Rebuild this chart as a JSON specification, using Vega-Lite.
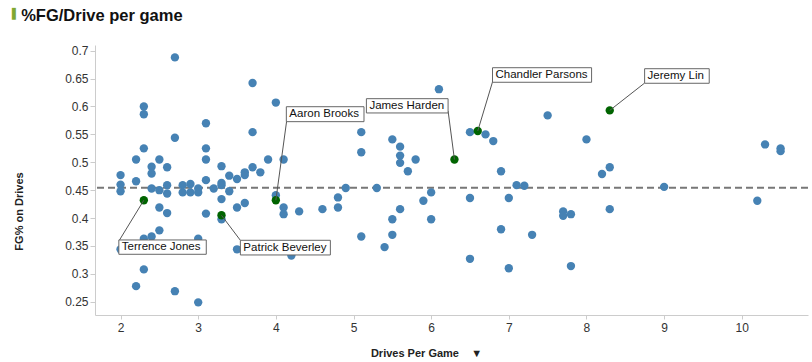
{
  "$schema": "https://vega.github.io/schema/vega-lite/v6.json",
  "autosize": {"type": "none"},
  "padding": {"left": 95, "top": 45, "right": 4, "bottom": 47},
  "width": 713,
  "height": 270,
  "background": "white",
  "title": {
    "text": "\u200b\u00a0\u00a0%FG/Drive per game",
    "subtitle": "▌",
    "anchor": "start",
    "frame": "group",
    "dx": -83,
    "font": "Liberation Sans",
    "fontSize": 16.5,
    "fontWeight": "bold",
    "color": "#111111",
    "subtitleFont": "DejaVu Sans",
    "subtitleFontSize": 10,
    "subtitleColor": "#7fa832",
    "subtitlePadding": -16,
    "offset": 20
  },
  "config": {
    "view": {"stroke": null},
    "axis": {
      "grid": false,
      "domainColor": "#cccccc",
      "tickColor": "#cccccc",
      "labelFont": "Liberation Sans",
      "labelFontSize": 12,
      "labelColor": "#333333",
      "titleFont": "Liberation Sans",
      "titleFontSize": 11,
      "titleFontWeight": "bold",
      "titleColor": "#222222"
    }
  },
  "datasets": {
    "players": [
      {"drives": 2.7, "fg": 0.688}, {"drives": 3.7, "fg": 0.642}, {"drives": 4.0, "fg": 0.607}, {"drives": 2.3, "fg": 0.600},
      {"drives": 2.3, "fg": 0.586}, {"drives": 3.1, "fg": 0.570}, {"drives": 3.7, "fg": 0.554}, {"drives": 2.7, "fg": 0.544},
      {"drives": 2.3, "fg": 0.525}, {"drives": 3.1, "fg": 0.525}, {"drives": 2.2, "fg": 0.505}, {"drives": 2.5, "fg": 0.505},
      {"drives": 3.1, "fg": 0.505}, {"drives": 3.9, "fg": 0.505}, {"drives": 4.1, "fg": 0.505}, {"drives": 2.4, "fg": 0.492},
      {"drives": 2.6, "fg": 0.491}, {"drives": 3.3, "fg": 0.493}, {"drives": 3.7, "fg": 0.491}, {"drives": 2.4, "fg": 0.480},
      {"drives": 3.6, "fg": 0.482}, {"drives": 3.8, "fg": 0.482}, {"drives": 2.0, "fg": 0.477}, {"drives": 3.4, "fg": 0.476},
      {"drives": 3.5, "fg": 0.470}, {"drives": 3.6, "fg": 0.477}, {"drives": 2.2, "fg": 0.466}, {"drives": 3.1, "fg": 0.468},
      {"drives": 3.3, "fg": 0.463}, {"drives": 2.0, "fg": 0.460}, {"drives": 2.6, "fg": 0.459}, {"drives": 2.8, "fg": 0.459},
      {"drives": 2.9, "fg": 0.461}, {"drives": 3.0, "fg": 0.453}, {"drives": 2.4, "fg": 0.453}, {"drives": 2.5, "fg": 0.450},
      {"drives": 3.2, "fg": 0.453}, {"drives": 3.3, "fg": 0.459}, {"drives": 2.0, "fg": 0.448}, {"drives": 2.6, "fg": 0.444},
      {"drives": 2.8, "fg": 0.446}, {"drives": 2.9, "fg": 0.446}, {"drives": 3.0, "fg": 0.446}, {"drives": 3.4, "fg": 0.448},
      {"drives": 3.3, "fg": 0.434}, {"drives": 4.0, "fg": 0.441}, {"drives": 2.5, "fg": 0.419}, {"drives": 3.5, "fg": 0.419},
      {"drives": 3.6, "fg": 0.427}, {"drives": 4.1, "fg": 0.419}, {"drives": 2.6, "fg": 0.409}, {"drives": 3.1, "fg": 0.408},
      {"drives": 4.1, "fg": 0.407}, {"drives": 4.3, "fg": 0.412}, {"drives": 4.6, "fg": 0.416}, {"drives": 4.8, "fg": 0.419},
      {"drives": 4.8, "fg": 0.437}, {"drives": 3.3, "fg": 0.398}, {"drives": 2.5, "fg": 0.378}, {"drives": 2.3, "fg": 0.363},
      {"drives": 2.4, "fg": 0.367}, {"drives": 3.0, "fg": 0.363}, {"drives": 2.0, "fg": 0.344}, {"drives": 3.5, "fg": 0.344},
      {"drives": 4.2, "fg": 0.333}, {"drives": 2.3, "fg": 0.308}, {"drives": 2.2, "fg": 0.278}, {"drives": 2.7, "fg": 0.269},
      {"drives": 3.0, "fg": 0.249},
      {"drives": 6.1, "fg": 0.631}, {"drives": 7.5, "fg": 0.584}, {"drives": 6.5, "fg": 0.554}, {"drives": 6.7, "fg": 0.550},
      {"drives": 6.8, "fg": 0.538}, {"drives": 5.1, "fg": 0.554}, {"drives": 5.1, "fg": 0.518}, {"drives": 5.5, "fg": 0.541},
      {"drives": 5.6, "fg": 0.528}, {"drives": 5.6, "fg": 0.512}, {"drives": 5.6, "fg": 0.499}, {"drives": 5.8, "fg": 0.505},
      {"drives": 5.7, "fg": 0.484}, {"drives": 6.9, "fg": 0.484}, {"drives": 4.9, "fg": 0.454}, {"drives": 5.3, "fg": 0.454},
      {"drives": 7.1, "fg": 0.459}, {"drives": 7.2, "fg": 0.458}, {"drives": 6.0, "fg": 0.446}, {"drives": 5.9, "fg": 0.431},
      {"drives": 6.5, "fg": 0.436}, {"drives": 7.0, "fg": 0.436}, {"drives": 5.6, "fg": 0.416}, {"drives": 5.5, "fg": 0.398},
      {"drives": 6.0, "fg": 0.398}, {"drives": 7.7, "fg": 0.412}, {"drives": 7.7, "fg": 0.404}, {"drives": 7.8, "fg": 0.407},
      {"drives": 5.1, "fg": 0.367}, {"drives": 5.5, "fg": 0.370}, {"drives": 5.4, "fg": 0.348}, {"drives": 6.9, "fg": 0.380},
      {"drives": 7.3, "fg": 0.370}, {"drives": 6.5, "fg": 0.327}, {"drives": 7.0, "fg": 0.310}, {"drives": 7.8, "fg": 0.314},
      {"drives": 8.0, "fg": 0.541}, {"drives": 8.3, "fg": 0.491}, {"drives": 8.2, "fg": 0.479}, {"drives": 9.0, "fg": 0.456},
      {"drives": 8.3, "fg": 0.416}, {"drives": 10.3, "fg": 0.532}, {"drives": 10.5, "fg": 0.525}, {"drives": 10.5, "fg": 0.520},
      {"drives": 10.2, "fg": 0.431}
    ],
    "labeled": [
      {"name": "Terrence Jones", "drives": 2.3, "fg": 0.432, "lx": 1.987, "ly": 0.3608, "bx1": 1.978, "bx2": 3.104, "by1": 0.3351, "by2": 0.3608},
      {"name": "Patrick Beverley", "drives": 3.3, "fg": 0.405, "lx": 3.543, "ly": 0.3602, "bx1": 3.543, "bx2": 4.702, "by1": 0.3339, "by2": 0.3602},
      {"name": "Aaron Brooks", "drives": 4.0, "fg": 0.432, "lx": 4.139, "ly": 0.574, "bx1": 4.135, "bx2": 5.135, "by1": 0.5728, "by2": 0.5996},
      {"name": "James Harden", "drives": 6.3, "fg": 0.505, "lx": 6.218, "ly": 0.592, "bx1": 5.166, "bx2": 6.218, "by1": 0.5884, "by2": 0.614},
      {"name": "Chandler Parsons", "drives": 6.6, "fg": 0.556, "lx": 6.79, "ly": 0.644, "bx1": 6.79, "bx2": 8.066, "by1": 0.6434, "by2": 0.6695},
      {"name": "Jeremy Lin", "drives": 8.3, "fg": 0.593, "lx": 8.749, "ly": 0.642, "bx1": 8.749, "bx2": 9.581, "by1": 0.6416, "by2": 0.6677}
    ],
    "reference": [{"avg": 0.4545}]
  },
  "encoding": {
    "x": {
      "type": "quantitative",
      "scale": {"domain": [1.671, 10.853], "nice": false, "zero": false},
      "axis": {
        "values": [2, 3, 4, 5, 6, 7, 8, 9, 10],
        "tickSize": 4,
        "labelPadding": 3,
        "title": "Drives Per Game\u00a0\u00a0\u00a0\u00a0▼",
        "titleX": 331,
        "titleY": 38,
        "titleBaseline": "middle",
        "titleAnchor": "middle"
      }
    },
    "y": {
      "type": "quantitative",
      "scale": {"domain": [0.2263, 0.7102], "nice": false, "zero": false},
      "axis": {
        "values": [0.25, 0.3, 0.35, 0.4, 0.45, 0.5, 0.55, 0.6, 0.65, 0.7],
        "format": "~g",
        "tickSize": 5,
        "labelPadding": 2,
        "title": "FG% on Drives",
        "titleX": -76,
        "titleY": 166,
        "titleAngle": -90,
        "titleAlign": "center",
        "titleBaseline": "middle"
      }
    }
  },
  "layer": [
    {
      "data": {"name": "reference"},
      "mark": {"type": "rule", "color": "#777777", "strokeWidth": 2, "strokeDash": [7, 4]},
      "encoding": {"y": {"field": "avg", "type": "quantitative"}}
    },
    {
      "data": {"name": "players"},
      "mark": {"type": "circle", "size": 70, "color": "#4682b4", "opacity": 1},
      "encoding": {
        "x": {"field": "drives", "type": "quantitative"},
        "y": {"field": "fg", "type": "quantitative"}
      }
    },
    {
      "data": {"name": "labeled"},
      "mark": {"type": "circle", "size": 70, "color": "#006400", "opacity": 1},
      "encoding": {
        "x": {"field": "drives", "type": "quantitative"},
        "y": {"field": "fg", "type": "quantitative"}
      }
    },
    {
      "data": {"name": "labeled"},
      "mark": {"type": "rule", "color": "#555555", "strokeWidth": 1},
      "encoding": {
        "x": {"field": "drives", "type": "quantitative"},
        "y": {"field": "fg", "type": "quantitative"},
        "x2": {"field": "lx"},
        "y2": {"field": "ly"}
      }
    },
    {
      "data": {"name": "labeled"},
      "mark": {"type": "rect", "fill": "white", "stroke": "#666666", "strokeWidth": 1},
      "encoding": {
        "x": {"field": "bx1", "type": "quantitative"},
        "x2": {"field": "bx2"},
        "y": {"field": "by1", "type": "quantitative"},
        "y2": {"field": "by2"}
      }
    },
    {
      "data": {"name": "labeled"},
      "mark": {"type": "text", "align": "left", "baseline": "middle", "dx": 3, "dy": 7.5, "font": "Liberation Sans", "fontSize": 11.5, "color": "#111111"},
      "encoding": {
        "x": {"field": "bx1", "type": "quantitative"},
        "y": {"field": "by2", "type": "quantitative"},
        "text": {"field": "name"}
      }
    }
  ]
}
